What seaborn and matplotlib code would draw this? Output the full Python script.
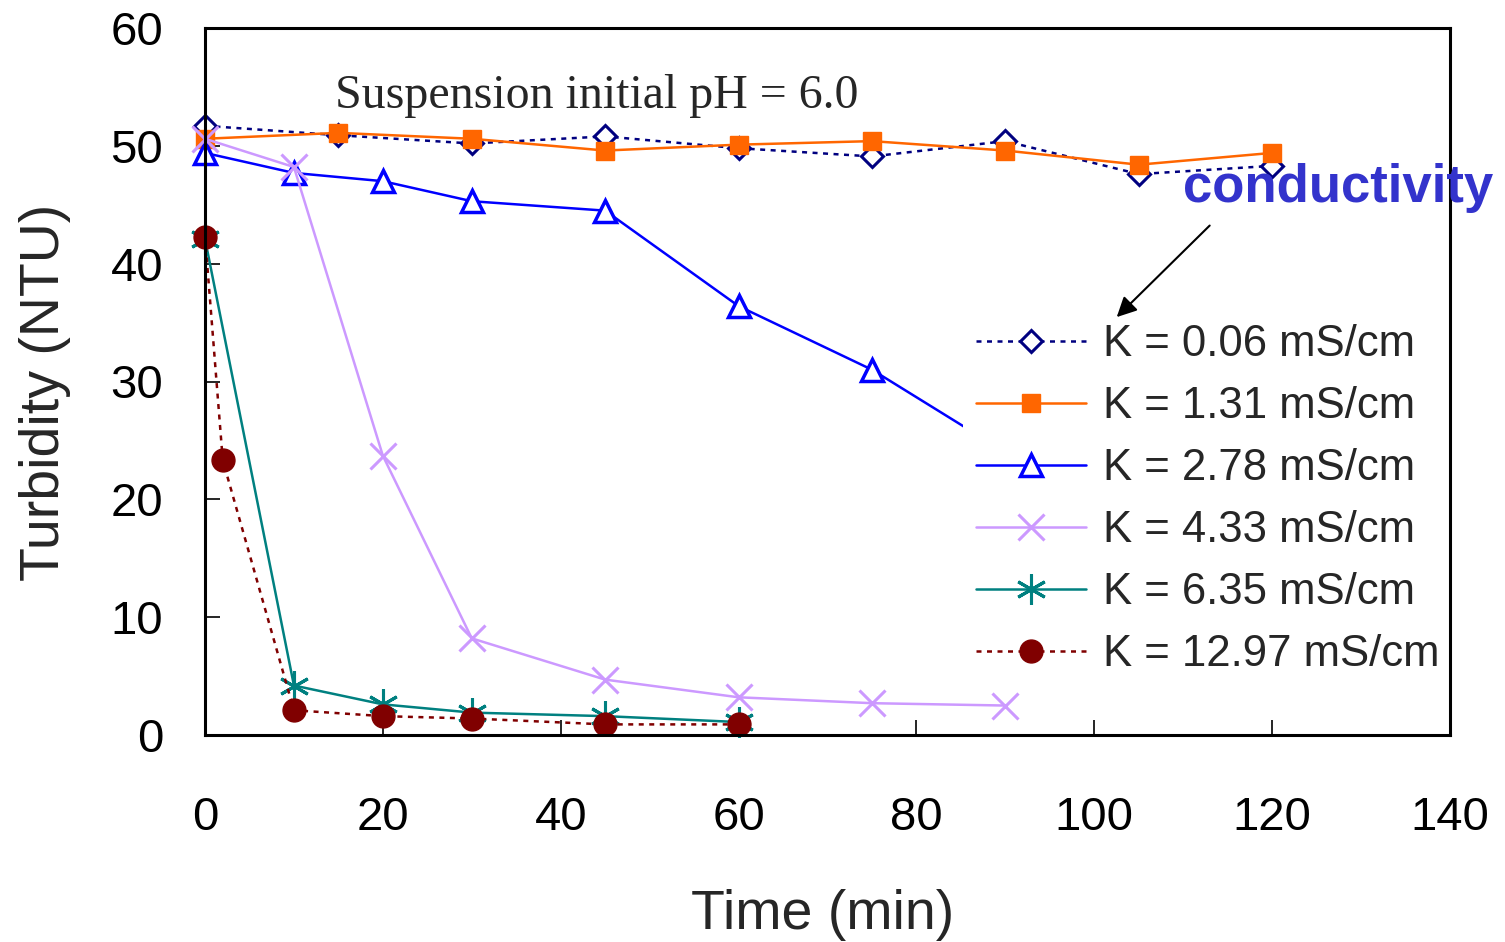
import numpy as np
import pandas as pd
import matplotlib
matplotlib.use("Agg")
import matplotlib.pyplot as plt
import seaborn as sns

# ---- data ----
x_std = [0, 15, 30, 45, 60, 75, 90, 105, 120]
y_k006 = [51.7, 50.9, 50.2, 50.8, 49.8, 49.1, 50.4, 47.6, 48.3]
y_k131 = [50.6, 51.1, 50.6, 49.6, 50.1, 50.4, 49.6, 48.4, 49.4]

x_k278 = [0, 10, 20, 30, 45, 60, 75, 90]
y_k278 = [49.4, 47.7, 47.0, 45.3, 44.5, 36.4, 31.0, 24.0]

x_k433 = [0, 10, 20, 30, 45, 60, 75, 90]
y_k433 = [50.6, 48.2, 23.7, 8.2, 4.7, 3.2, 2.7, 2.5]

x_k635 = [0, 10, 20, 30, 45, 60]
y_k635 = [42.1, 4.2, 2.6, 1.9, 1.6, 1.1]

x_k1297 = [0, 2, 10, 20, 30, 45, 60]
y_k1297 = [42.3, 23.3, 2.1, 1.6, 1.4, 0.9, 0.9]

labels = ["K = 0.06 mS/cm", "K = 1.31 mS/cm", "K = 2.78 mS/cm",
          "K = 4.33 mS/cm", "K = 6.35 mS/cm", "K = 12.97 mS/cm"]
x_ticks = [0, 20, 40, 60, 80, 100, 120, 140]
y_ticks = [0, 10, 20, 30, 40, 50, 60]

sns.set_style("white")
plt.rcParams['font.family'] = ['Liberation Sans', 'DejaVu Sans']

fig = plt.figure(figsize=(15.05, 9.42), dpi=100)
ax = fig.add_axes([205/1505, 1-735/942, (1450-205)/1505, (735-28)/942])

series = [
    (x_std, y_k006, dict(color="#000080", ls=(0, (2, 2.2)), marker="D", ms=11,
                         mfc="white", mec="#000080", mew=2.2)),
    (x_std, y_k131, dict(color="#ff6600", ls="-", marker="s", ms=13,
                         mfc="#ff6600", mec="#ff6600", mew=1)),
    (x_k278, y_k278, dict(color="#0000ff", ls="-", marker="^", ms=16,
                          mfc="white", mec="#0000ff", mew=2.5)),
    (x_k433, y_k433, dict(color="#cc99ff", ls="-", marker="x", ms=19,
                          mfc="#cc99ff", mec="#cc99ff", mew=2.2)),
    (x_k635, y_k635, dict(color="#008080", ls="-", marker=(6, 2, 0), ms=22,
                          mfc="#008080", mec="#008080", mew=2.2)),
    (x_k1297, y_k1297, dict(color="#800000", ls=(0, (2, 2.2)), marker="o", ms=16.5,
                            mfc="#800000", mec="#800000", mew=1)),
]

for (xs, ys, st), lab in zip(series, labels):
    df = pd.DataFrame({"t": xs, "turb": ys})
    sns.lineplot(data=df, x="t", y="turb", ax=ax, sort=False, errorbar=None,
                 label=lab, linewidth=1.8, clip_on=False, **st)

ax.set_xlim(0, 140)
ax.set_ylim(0, 60)
ax.set_xticks(x_ticks)
ax.set_yticks(y_ticks)
ax.tick_params(axis="both", direction="in", length=11, width=1.2, labelsize=34,
               colors="black", bottom=True, left=True, top=False, right=False)
ax.tick_params(axis="x", pad=44)
ax.tick_params(axis="y", pad=30)
for s in ax.spines.values():
    s.set_color("black")
    s.set_linewidth(2.2)
    s.set_visible(True)
    s.set_zorder(3)

ax.set_xlabel("Time (min)", fontsize=40)
ax.set_ylabel("Turbidity (NTU)", fontsize=40)
ax.xaxis.set_label_coords(0.496, -0.254)
ax.xaxis.label.set_verticalalignment("center")
ax.yaxis.set_label_coords(-0.1285, 0.485)
ax.yaxis.label.set_verticalalignment("center")

ax.text(14.6, 54.2, "Suspension initial pH = 6.0", fontsize=34.5,
        family=["Liberation Serif", "DejaVu Serif"], ha="left", va="center")

leg = ax.legend(loc="center left", bbox_to_anchor=(963/1505, 1-500/942),
                bbox_transform=fig.transFigure, fontsize=31.5, frameon=True,
                framealpha=1, facecolor="white", edgecolor="none",
                handlelength=2.5, handletextpad=0.4, labelspacing=0.48,
                borderpad=0.3, borderaxespad=0, fancybox=False)
leg.set_zorder(2.8)

ax.text(127.4, 46.4, "conductivity", fontsize=38, fontweight="bold",
        color="#3333cc", ha="center", va="center", clip_on=False, zorder=6)
ax.annotate("", xy=(102.3, 35.3), xytext=(113.2, 43.4),
            arrowprops=dict(arrowstyle="-|>", color="black", lw=1.5,
                            mutation_scale=30), zorder=6)

fig.savefig("out.png", dpi=100)
